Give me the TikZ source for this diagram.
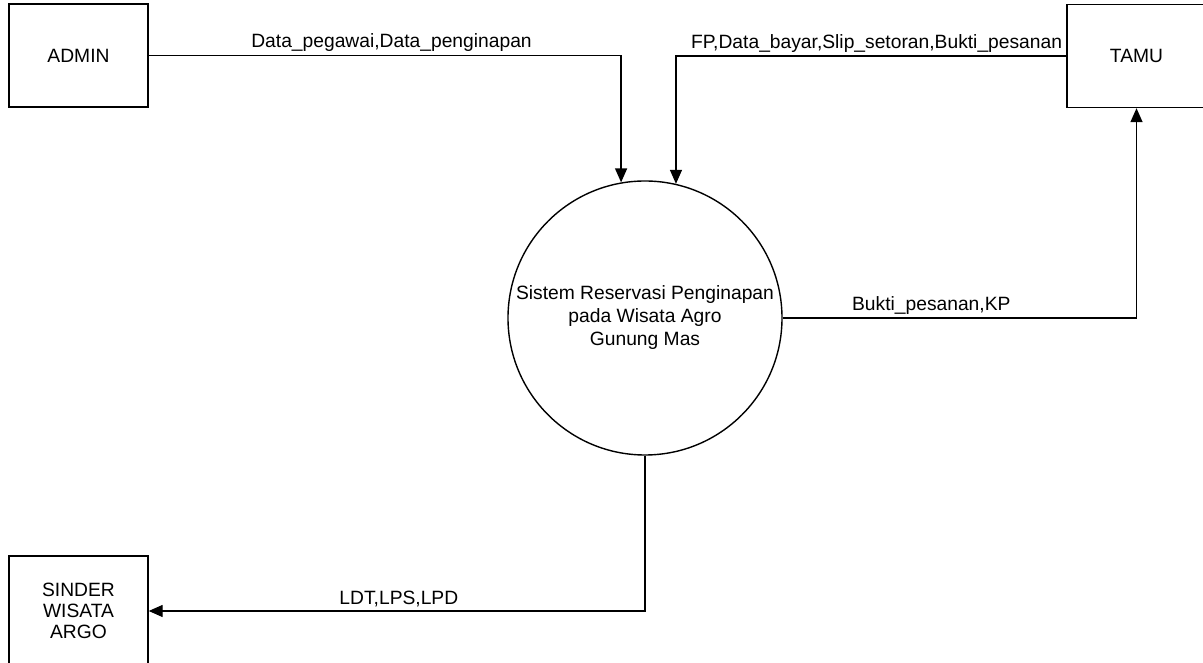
\documentclass[tikz,border=0pt]{standalone}
\usepackage{fontspec}
\setmainfont{Liberation Sans}
\usepackage{tikz}
\usetikzlibrary{arrows.meta,positioning}

\begin{document}
\begin{tikzpicture}[->,>={Triangle[length=14pt,width=12pt]},x=1pt,y=1pt,
                    line width=1.4pt,font=\fontsize{19.25}{23}\selectfont]
  \tikzstyle{entity}=[draw=black,fill=white,minimum width=139pt,minimum height=103pt,
                      align=center,inner sep=0pt]
  \tikzstyle{process}=[circle,draw=black,minimum size=274pt,align=center,inner sep=0pt]
  \tikzstyle{flow}=[above,inner sep=3pt]

  \useasboundingbox (0,0) rectangle (1203,663);

  \node[entity]                      (admin)  at (78.5,607.5) {ADMIN};
  \node[entity]                      (tamu)   at (1136.5,607) {TAMU};
  \node[entity,minimum height=110pt,font=\fontsize{19.25}{21}\selectfont]
                                     (sinder) at (78.5,52) {SINDER\\WISATA\\ARGO};
  \node[process]                     (sys)    at (645,345)
        {Sistem Reservasi Penginapan\\pada Wisata Agro\\Gunung Mas};

  % data flows
  \draw (admin.east) -| node[flow,pos=0.257] {Data\_pegawai,Data\_penginapan} (sys.100);
  \draw (tamu.west)  -| node[flow,pos=0.243] {FP,Data\_bayar,Slip\_setoran,Bukti\_pesanan} (sys.77);
  \draw (sys.east)   -| node[flow,pos=0.21]  {Bukti\_pesanan,KP} (tamu.south);
  \draw (sys.south)  |- node[flow,pos=0.748] {LDT,LPS,LPD} (sinder.east);
\end{tikzpicture}
\end{document}
